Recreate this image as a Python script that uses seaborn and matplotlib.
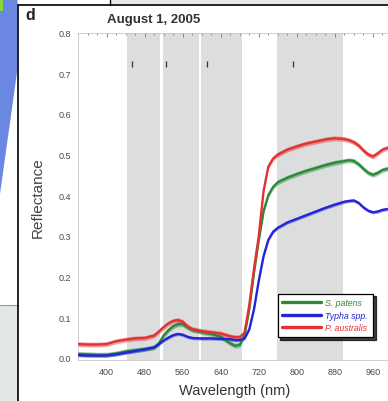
import numpy as np
import pandas as pd
import matplotlib
matplotlib.use("Agg")
import matplotlib.pyplot as plt
from matplotlib.patches import Polygon, Rectangle
from matplotlib.ticker import MultipleLocator
import seaborn as sns

# Mean canopy reflectance spectra, August 1, 2005
wavelength = [340, 360, 380, 400, 420, 440, 460, 480, 500, 510, 520, 530, 540, 550,
              560, 570, 580, 600, 620, 640, 660, 670, 680, 690, 700, 710, 720, 730,
              740, 750, 760, 780, 800, 820, 840, 860, 880, 900, 910, 920, 930, 940,
              950, 960, 970, 980, 990, 1000]

s_patens = [0.010, 0.009, 0.008, 0.008, 0.011, 0.016, 0.019, 0.022, 0.026, 0.036,
            0.055, 0.068, 0.078, 0.083, 0.083, 0.075, 0.069, 0.064, 0.059, 0.052,
            0.036, 0.030, 0.032, 0.055, 0.120, 0.210, 0.290, 0.360, 0.400, 0.420,
            0.432, 0.443, 0.452, 0.460, 0.467, 0.474, 0.480, 0.484, 0.486, 0.484,
            0.476, 0.465, 0.455, 0.450, 0.455, 0.462, 0.465, 0.466]

typha = [0.007, 0.006, 0.006, 0.006, 0.009, 0.013, 0.017, 0.021, 0.026, 0.034,
         0.043, 0.050, 0.056, 0.059, 0.057, 0.052, 0.049, 0.048, 0.048, 0.047,
         0.046, 0.044, 0.044, 0.048, 0.070, 0.120, 0.190, 0.250, 0.290, 0.310,
         0.320, 0.333, 0.342, 0.351, 0.360, 0.369, 0.377, 0.384, 0.386, 0.387,
         0.381, 0.370, 0.362, 0.358, 0.360, 0.364, 0.366, 0.367]

p_australis = [0.034, 0.033, 0.033, 0.034, 0.041, 0.045, 0.048, 0.049, 0.055, 0.065,
               0.076, 0.085, 0.091, 0.093, 0.089, 0.078, 0.071, 0.066, 0.063, 0.060,
               0.053, 0.051, 0.051, 0.062, 0.130, 0.220, 0.300, 0.410, 0.470, 0.490,
               0.500, 0.512, 0.520, 0.527, 0.532, 0.537, 0.540, 0.538, 0.535, 0.530,
               0.522, 0.510, 0.500, 0.495, 0.503, 0.512, 0.516, 0.518]

species = ["S. patens", "Typha spp.", "P. australis"]
colors = ["#2a8a3a", "#2424d8", "#e23232"]
spread = [0.006, 0.004, 0.006]

# Sensor band windows (nm) and band-centre marks
band_edges = [(443, 512), (519, 594), (599, 685), (758, 897)]
mark_nm = [453, 525, 611, 792]
mark_level = 0.723

x_ticks = [400, 480, 560, 640, 720, 800, 880, 960]
y_ticks = [0.0, 0.1, 0.2, 0.3, 0.4, 0.5, 0.6, 0.7, 0.8]

sns.set_theme(style="white")
plt.rcParams["font.family"] = ["Liberation Sans", "DejaVu Sans"]

W, H = 388, 402
fig = plt.figure(figsize=(W / 100, H / 100), dpi=100)
fig.patch.set_facecolor("white")

# Page furniture around the panel
bg = fig.add_axes([0, 0, 1, 1], zorder=0)
bg.set_xlim(0, W)
bg.set_ylim(H, 0)
bg.axis("off")
bg.add_patch(Polygon([(0, 0), (17.5, 0), (17.5, 70), (0, 195)], closed=True,
                     facecolor="#6a88e2", edgecolor="none"))
bg.add_patch(Rectangle((0, 0), 2.5, 12, facecolor="#86d83c", edgecolor="none"))
bg.add_patch(Rectangle((0, 306), 17.5, 96, facecolor="#e4e7e7", edgecolor="none"))
bg.plot([0, 17.5], [306, 306], color="#9a9a9a", lw=0.8)
bg.add_patch(Rectangle((110, 0), 278, 5, facecolor="#e6e8e8", edgecolor="none"))
bg.plot([110, 110], [0, 5.5], color="black", lw=1.0)
bg.plot([18, 18], [5.5, H], color="black", lw=1.2)
bg.plot([18, W], [5.5, 5.5], color="black", lw=1.2)

# Main spectral axes
left_px, right_px, top_px, bottom_px = 78, 392, 33.5, 361
ax = fig.add_axes([left_px / W, 1 - bottom_px / H,
                   (right_px - left_px) / W, (bottom_px - top_px) / H], zorder=2)
ax.set_facecolor("white")

for lo, hi in band_edges:
    ax.axvspan(lo, hi, color="#dcdddd", lw=0, zorder=0)
ax.vlines(mark_nm, mark_level - 0.007, mark_level + 0.007, color="#333333", lw=0.9, zorder=1)

df = pd.DataFrame({
    "Wavelength": wavelength * 3,
    "Reflectance": s_patens + typha + p_australis,
    "Species": [s for s in species for _ in wavelength],
})
palette = dict(zip(species, colors))
sns.lineplot(data=df, x="Wavelength", y="Reflectance", hue="Species",
             palette=palette, lw=1.7, ax=ax, legend=False, zorder=3)

for sp, vals, c, d in zip(species, [s_patens, typha, p_australis], colors, spread):
    v = np.array(vals)
    ax.fill_between(wavelength, v - d, v + d, color=c, alpha=0.45, lw=0, zorder=2)

ax.set_xlim(340, 1000)
ax.set_ylim(-0.005, 0.8)
ax.set_xticks(x_ticks)
ax.set_yticks(y_ticks)
ax.set_yticklabels([f"{t:.1f}" for t in y_ticks])
ax.xaxis.set_minor_locator(MultipleLocator(20))
ax.yaxis.set_minor_locator(MultipleLocator(0.02))
ax.tick_params(which="both", direction="in", top=True, right=True, color="#777777",
               labelsize=6.5, labelcolor="#4a4a4a", width=0.6)
ax.tick_params(which="major", length=3, pad=5)
ax.tick_params(which="minor", length=1.5)
for s in ax.spines.values():
    s.set_color("#c8c8c8")
    s.set_linewidth(0.6)

ax.set_xlabel("Wavelength (nm)", fontsize=10.5, color="#333333", labelpad=5)
ax.set_ylabel("Reflectance", fontsize=11, color="#444444", labelpad=10)

handles = [plt.Line2D([], [], color=c, lw=2.4) for c in colors]
leg = ax.legend(handles, species, loc="upper left", bbox_to_anchor=(0.622, 0.216),
                handlelength=4.4, handletextpad=0.5, labelspacing=0.4,
                borderpad=0.55, frameon=True, fancybox=False,
                shadow={"color": "black", "alpha": 0.75},
                prop={"style": "italic", "size": 6.3})
leg.get_frame().set_edgecolor("black")
leg.get_frame().set_linewidth(0.9)
for txt, c in zip(leg.get_texts(), colors):
    txt.set_color(c)

fig.text(107 / W, 1 - 20.5 / H, "August 1, 2005", ha="left", va="center",
         fontsize=9.5, fontweight="bold", color="#333333")
fig.text(30 / W, 1 - 16 / H, "d", ha="center", va="center",
         fontsize=11.5, fontweight="bold", color="#222222")

fig.savefig("out.png", dpi=100)
